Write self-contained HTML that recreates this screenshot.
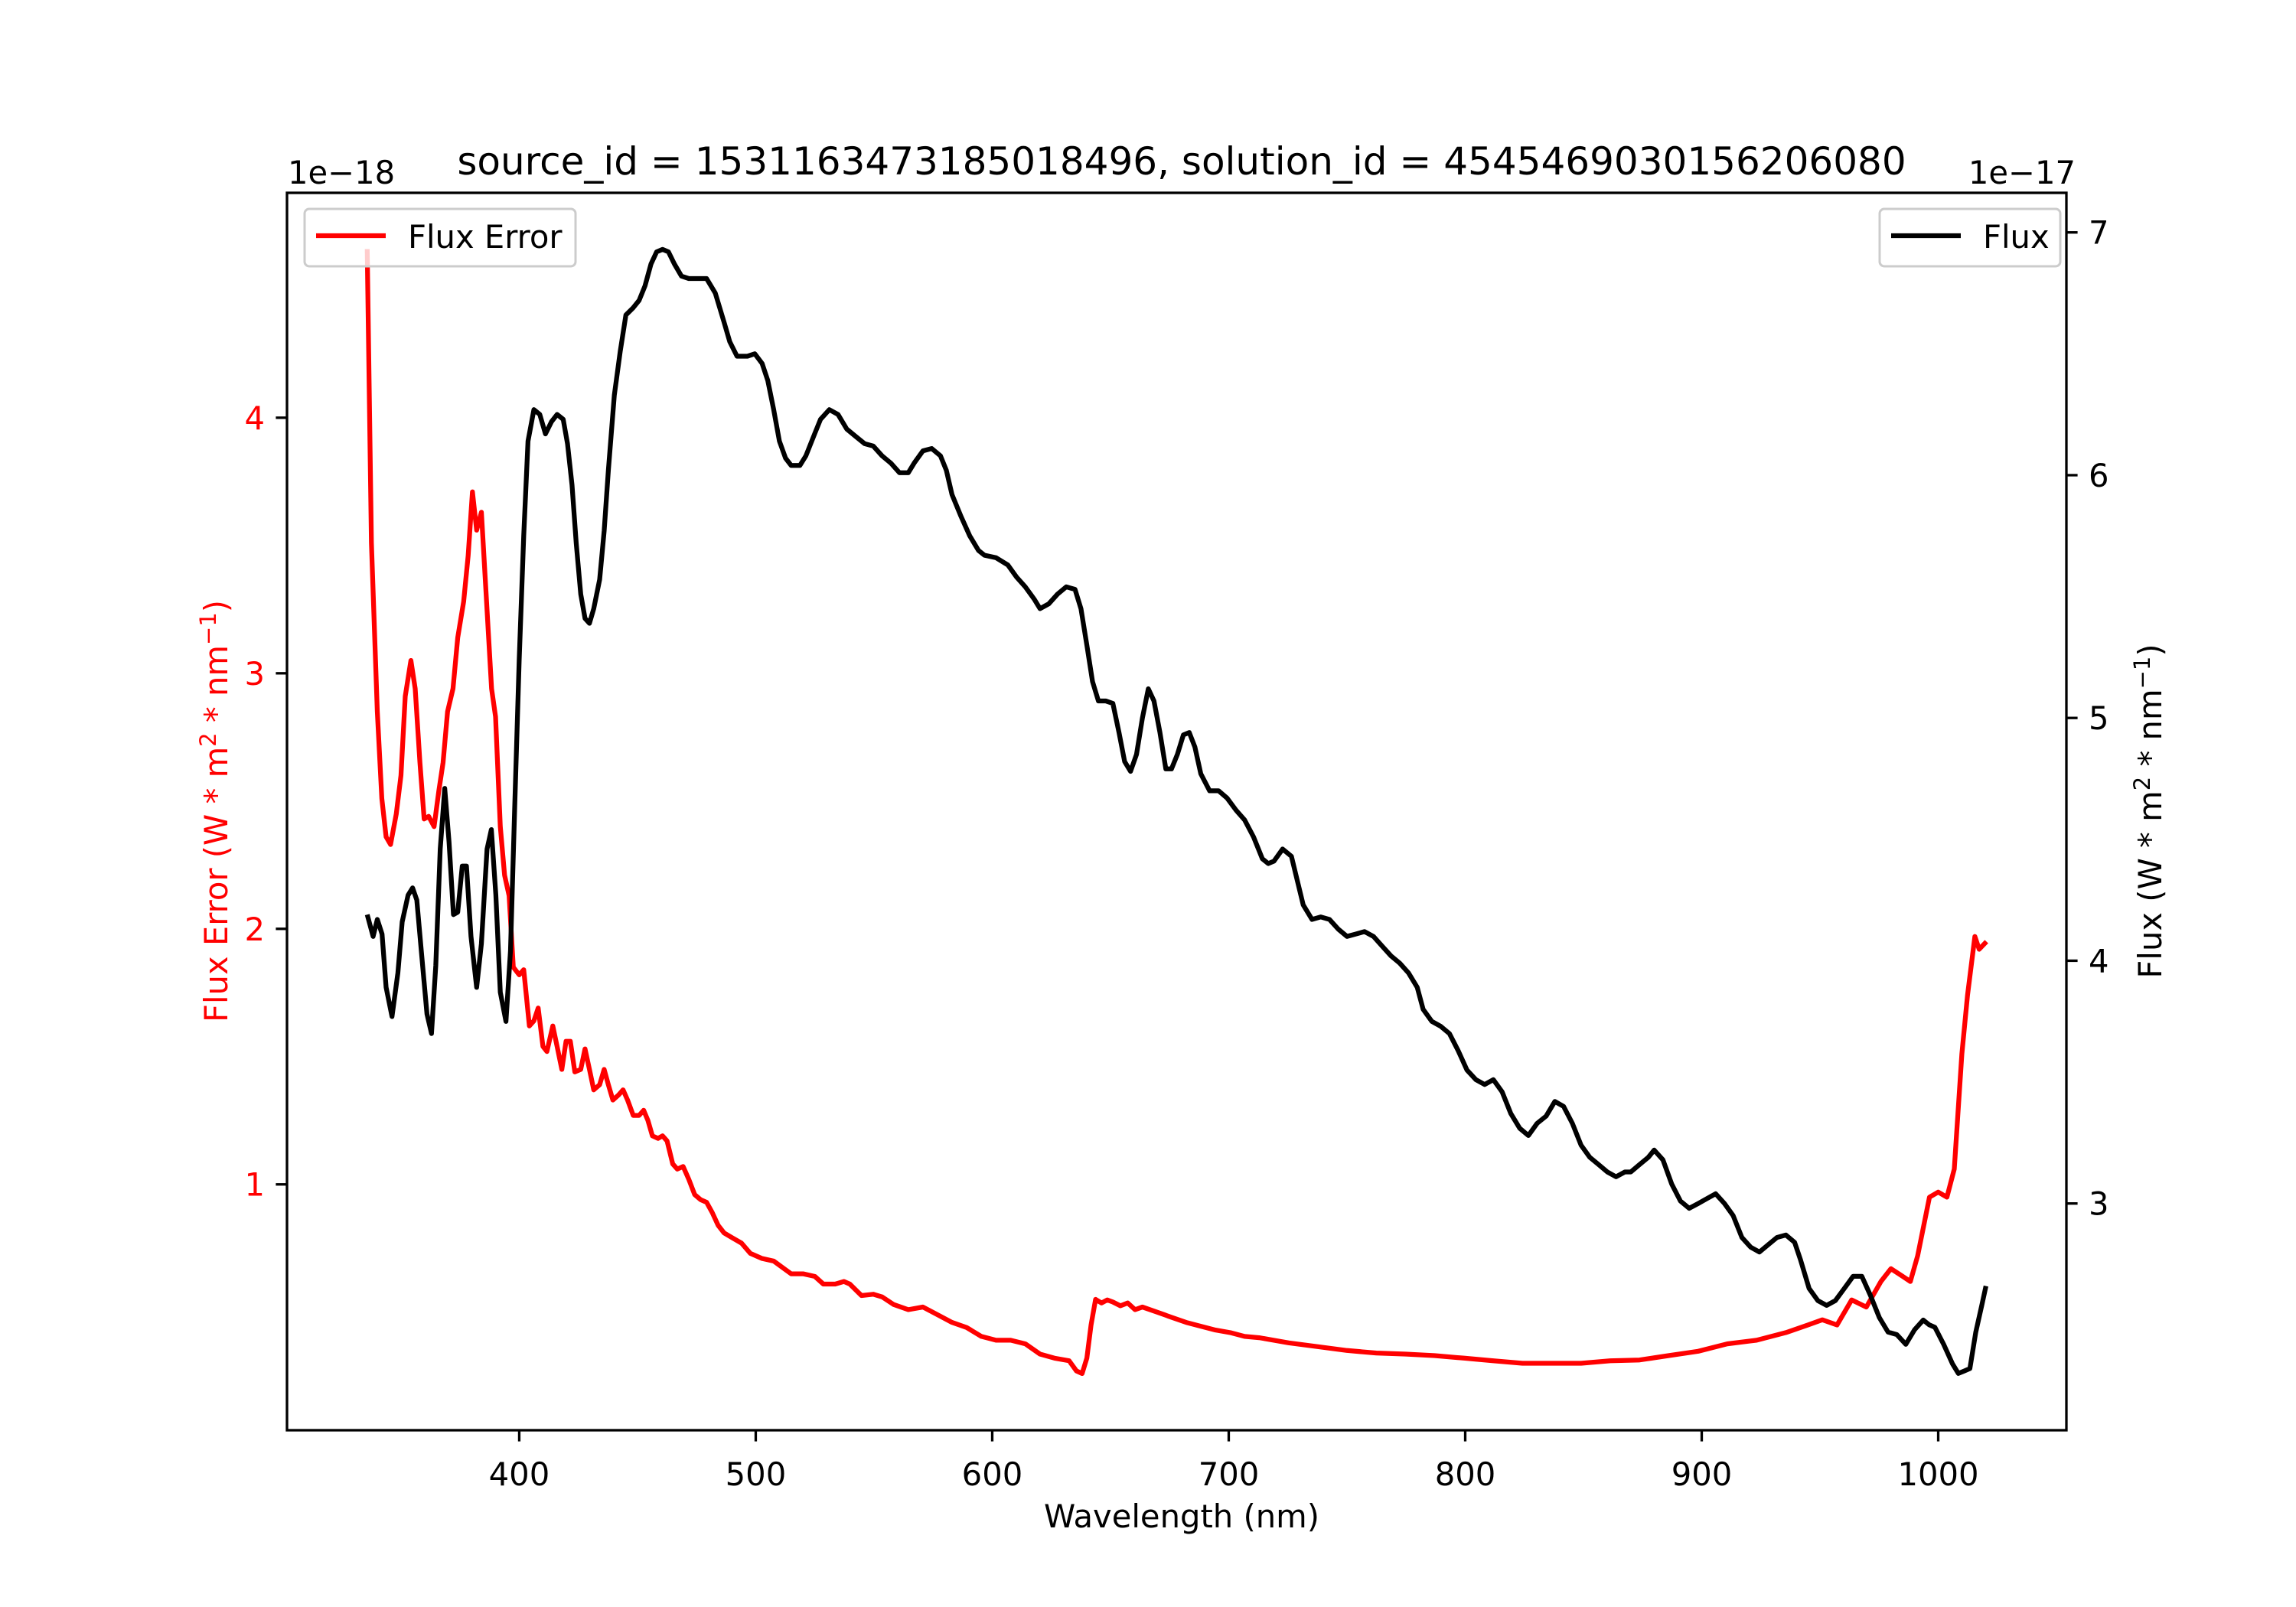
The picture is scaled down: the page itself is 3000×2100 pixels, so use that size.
<!DOCTYPE html>
<html><head><meta charset="utf-8">
<style>
html,body{margin:0;padding:0;background:#fff;}
svg{display:block;font-family:"DejaVu Sans","Liberation Sans",sans-serif;}
</style></head>
<body>
<svg id="chart" width="3000" height="2100" viewBox="0 0 3000 2100" xmlns="http://www.w3.org/2000/svg">
<rect width="3000" height="2100" fill="#fff"/>
<g id="plot"></g>
</svg>
<script>
const fluxErrWl = [335.7,337.5,340,341.9,343.7,345.6,348,350,351.8,354.2,356,358,359.8,361.7,364,366,367.8,369.7,372,374,376.5,378.4,380.2,382,384,385.8,388.3,390,392,393.8,395.7,397.5,400,401.9,404.3,406.2,408,410,411.7,414.2,416,418,419.8,421.6,423.5,426,427.8,429.7,431.5,434,435.9,437.7,439.6,442,443.9,445.8,448.2,450.7,452.6,454.4,456.3,458.7,460.6,462.5,464.9,466.8,469.3,471.7,474.2,476.7,479.2,481.6,484.1,486.6,490.3,494,497.7,502.7,507.6,512,515,520,525,528.6,533.6,537.3,539.8,544.7,549.7,553.4,558.3,564.5,570.7,576.9,583,589.2,595.4,601.6,607.8,614,620.2,626.3,632.5,635.6,638,640,641.8,643.7,646.2,648.6,651,654.2,657.3,660.4,663.5,669.7,675.8,682,688.2,694.4,700.6,706.7,712.9,719.1,725.3,737.7,750,762.4,774.8,787.1,799.5,811.9,824.2,836.6,849,861.3,873.7,886,898.5,910.8,923.2,935.6,944.9,951,957.2,963.4,969.6,975.8,980,985,988.2,991.3,996.3,1000,1003.7,1006.8,1010,1012.4,1015.5,1017.3,1020.4];
const fluxErrVal = [4.66,3.51,2.85,2.51,2.36,2.33,2.45,2.6,2.91,3.05,2.94,2.65,2.43,2.44,2.40,2.54,2.65,2.85,2.94,3.14,3.28,3.46,3.71,3.56,3.63,3.34,2.94,2.83,2.40,2.21,2.13,1.85,1.82,1.84,1.62,1.64,1.69,1.54,1.52,1.62,1.54,1.45,1.56,1.56,1.44,1.45,1.53,1.45,1.37,1.39,1.45,1.39,1.33,1.35,1.37,1.33,1.27,1.27,1.29,1.25,1.19,1.18,1.19,1.17,1.08,1.06,1.07,1.02,0.96,0.94,0.93,0.89,0.84,0.81,0.79,0.77,0.73,0.71,0.70,0.67,0.65,0.65,0.64,0.61,0.61,0.62,0.61,0.565,0.57,0.56,0.53,0.51,0.52,0.49,0.46,0.44,0.405,0.39,0.39,0.376,0.336,0.32,0.31,0.27,0.26,0.32,0.45,0.55,0.536,0.548,0.54,0.525,0.536,0.51,0.52,0.50,0.48,0.46,0.445,0.43,0.42,0.405,0.40,0.39,0.38,0.365,0.35,0.34,0.336,0.33,0.32,0.31,0.30,0.30,0.30,0.31,0.313,0.33,0.347,0.376,0.39,0.42,0.45,0.47,0.45,0.548,0.52,0.62,0.67,0.64,0.62,0.72,0.95,0.97,0.95,1.06,1.51,1.74,1.97,1.92,1.95];
const fluxWl = [335.7,338.2,340,342,343.7,346.2,348.7,350.5,353,354.9,356.7,358.6,361,362.9,364.7,366.6,368.5,370.3,372.2,374,375.9,377.7,379.6,382,384,386.4,388.2,390.1,392,394.4,396.3,398.1,400,401.9,403.7,406.2,408.7,411.1,413.6,416,418.6,420.4,422.3,424.1,426,427.8,429.7,431.5,434,435.9,437.7,440.2,442.7,445.1,448.2,450.7,453.2,455.7,458.1,460.6,463.1,465.6,468.6,471.7,475.4,479.2,482.9,486.6,489,492.1,496.5,499.6,502.7,505.1,507.6,510,512.6,515,518.7,521.2,524.9,527.4,531.1,534.8,538.5,542.2,546,549.7,553.4,557.1,560.8,564.5,567,570.7,574.4,578.1,580.6,583,586.8,590.5,594.2,596.7,601.6,606.6,610.3,614,617.7,620.2,623.9,627.6,631.3,635,637.5,640,642.4,644.9,648,651,653.6,656,658.5,661,663.5,666,668.4,670.9,673.4,675.8,678.3,680.8,683.3,685.7,688.2,691.9,695.7,699.3,703.1,706.7,710.5,714.2,716.7,719.1,722.8,726.5,729,731.5,735.2,738.9,742.6,746.3,750,753.7,757.4,761.2,764.9,768.6,772.3,776,779.7,782.2,785.9,789.6,793.3,797,800.7,804.5,808.2,811.9,815.6,819.3,823,826.7,830.4,834.2,837.9,841.6,845.3,849,852.7,856.4,860.1,863.8,867.5,870,873.7,877.4,879.9,883.6,887.3,891,894.7,898.5,902.2,905.9,909.6,913.3,917,920.7,924.4,928.1,931.8,935.6,939.3,941.7,945.4,949.1,952.8,956.5,960.3,964,967.7,971.4,975.1,978.8,982.5,986.3,990,993.7,996.2,998.6,1002.3,1006,1008.5,1011,1013.4,1015.9,1018.4,1020.2];
const fluxVal = [4.19,4.10,4.17,4.11,3.89,3.77,3.95,4.16,4.27,4.30,4.25,4.04,3.78,3.70,3.98,4.46,4.71,4.49,4.19,4.20,4.39,4.39,4.10,3.89,4.07,4.46,4.54,4.27,3.87,3.75,4.04,4.64,5.24,5.75,6.14,6.27,6.25,6.17,6.22,6.25,6.23,6.13,5.96,5.72,5.51,5.41,5.39,5.45,5.57,5.77,6.02,6.33,6.51,6.66,6.69,6.72,6.78,6.87,6.92,6.93,6.92,6.87,6.82,6.81,6.81,6.81,6.75,6.63,6.55,6.49,6.49,6.50,6.46,6.39,6.27,6.14,6.07,6.04,6.04,6.08,6.17,6.23,6.27,6.25,6.19,6.16,6.13,6.12,6.08,6.05,6.01,6.01,6.05,6.10,6.11,6.08,6.02,5.92,5.83,5.75,5.69,5.67,5.66,5.63,5.58,5.54,5.49,5.45,5.47,5.51,5.54,5.53,5.45,5.30,5.15,5.07,5.07,5.06,4.94,4.82,4.78,4.85,5.00,5.12,5.07,4.94,4.79,4.79,4.85,4.93,4.94,4.88,4.77,4.70,4.70,4.67,4.62,4.58,4.51,4.42,4.40,4.41,4.46,4.43,4.33,4.23,4.17,4.18,4.17,4.13,4.10,4.11,4.12,4.10,4.06,4.02,3.99,3.95,3.89,3.80,3.75,3.73,3.70,3.63,3.55,3.51,3.49,3.51,3.46,3.37,3.31,3.28,3.33,3.36,3.42,3.40,3.33,3.24,3.19,3.16,3.13,3.11,3.13,3.13,3.16,3.19,3.22,3.18,3.08,3.01,2.98,3.00,3.02,3.04,3.00,2.95,2.86,2.82,2.80,2.83,2.86,2.87,2.84,2.77,2.65,2.60,2.58,2.60,2.65,2.70,2.70,2.62,2.53,2.47,2.46,2.42,2.48,2.52,2.50,2.49,2.42,2.34,2.30,2.31,2.32,2.47,2.58,2.66];
const xTicks = [400,500,600,700,800,900,1000];
const yLeftTicks = [1,2,3,4];
const yRightTicks = [3,4,5,6,7];

const L=375,R=2700,T=252,B=1869;
const xMin=301.8,xMax=1054.2, ylMin=0.038, ylMax=4.88, yrMin=2.066, yrMax=7.163;
const sx=v=>L+(v-xMin)/(xMax-xMin)*(R-L);
const syl=v=>B-(v-ylMin)/(ylMax-ylMin)*(B-T);
const syr=v=>B-(v-yrMin)/(yrMax-yrMin)*(B-T);
const NS="http://www.w3.org/2000/svg";
const g=document.getElementById('plot');
function mk(tag,attrs,parent){const e=document.createElementNS(NS,tag);for(const k in attrs)e.setAttribute(k,attrs[k]);(parent||g).appendChild(e);return e;}
function txt(s,attrs){const e=mk('text',attrs);e.textContent=s;return e;}

let d=fluxErrWl.map((w,i)=>(i?'L':'M')+sx(w).toFixed(1)+','+syl(fluxErrVal[i]).toFixed(1)).join('');
const pe=mk('path',{d:d,fill:'none',stroke:'#ff0000','stroke-width':6.25,'stroke-linejoin':'round'});


d=fluxWl.map((w,i)=>(i?'L':'M')+sx(w).toFixed(1)+','+syr(fluxVal[i]).toFixed(1)).join('');
const pf=mk('path',{d:d,fill:'none',stroke:'#000','stroke-width':6.25,'stroke-linejoin':'round'});



const fr=mk('rect',{x:L,y:T,width:R-L,height:B-T,fill:'none',stroke:'#000','stroke-width':3.3});



const FS=41.7;
xTicks.forEach(v=>{const x=sx(v);mk('line',{x1:x,x2:x,y1:B,y2:B+14.6,stroke:'#000','stroke-width':3.3});
 const t=txt(v,{x:x,y:B+72,'font-size':FS,'text-anchor':'middle',fill:'#000'});
 
 });
yLeftTicks.forEach(v=>{const y=syl(v);mk('line',{x1:L,x2:L-14.6,y1:y,y2:y,stroke:'#000','stroke-width':3.3});
 const t=txt(v,{x:L-29,y:y+15,'font-size':FS,'text-anchor':'end',fill:'#ff0000'});
 
 });
yRightTicks.forEach(v=>{const y=syr(v);mk('line',{x1:R,x2:R+14.6,y1:y,y2:y,stroke:'#000','stroke-width':3.3});
 const t=txt(v,{x:R+29,y:y+15,'font-size':FS,'text-anchor':'start',fill:'#000'});
 
 });
</script>
<svg style="position:absolute;left:0;top:0" width="3000" height="2100" viewBox="0 0 3000 2100" xmlns="http://www.w3.org/2000/svg" font-family="DejaVu Sans, Liberation Sans, sans-serif">
<text x="1544" y="228" font-size="50" text-anchor="middle">source_id = 1531163473185018496, solution_id = 4545469030156206080</text>
<text x="376" y="240" font-size="41.7">1e−18</text>
<text x="2712" y="240" font-size="41.7" text-anchor="end">1e−17</text>
<text x="1544" y="1996" font-size="41.7" text-anchor="middle">Wavelength (nm)</text>
<text transform="translate(297,1060) rotate(-90)" font-size="41.7" text-anchor="middle" fill="#ff0000">Flux Error (W * m<tspan dy="-15" font-size="29">2</tspan><tspan dy="15"> * nm</tspan><tspan dy="-15" font-size="29">−1</tspan><tspan dy="15">)</tspan></text>
<text transform="translate(2824,1060) rotate(-90)" font-size="41.7" text-anchor="middle">Flux (W * m<tspan dy="-15" font-size="29">2</tspan><tspan dy="15"> * nm</tspan><tspan dy="-15" font-size="29">−1</tspan><tspan dy="15">)</tspan></text>
<g>
<rect x="398" y="273" width="354" height="75" rx="6" fill="#fff" fill-opacity="0.8" stroke="#ccc" stroke-width="3"/>
<line x1="413" x2="504" y1="308" y2="308" stroke="#ff0000" stroke-width="6.25"/>
<text x="533" y="324" font-size="41.7">Flux Error</text>
</g>
<g>
<rect x="2456" y="273" width="236" height="75" rx="6" fill="#fff" fill-opacity="0.8" stroke="#ccc" stroke-width="3"/>
<line x1="2471" x2="2562" y1="308" y2="308" stroke="#000" stroke-width="6.25"/>
<text x="2591" y="324" font-size="41.7">Flux</text>
</g>
</svg>
</body></html>
